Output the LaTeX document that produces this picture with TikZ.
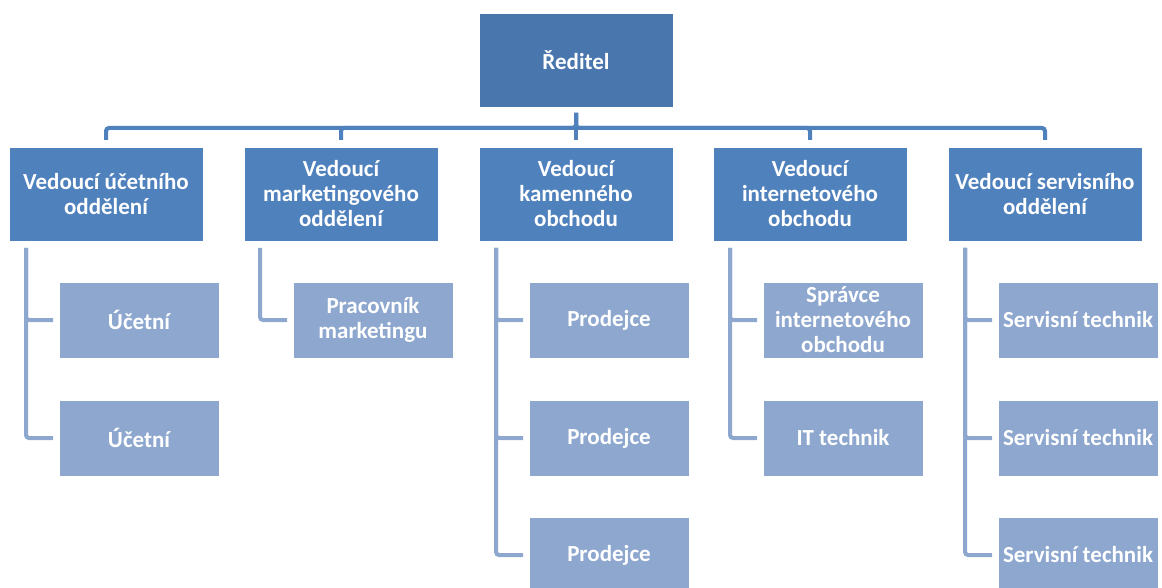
\documentclass[tikz,border=0pt]{standalone}
\usepackage{fontspec}
\setmainfont{Carlito}
\usepackage{tikz}
\usetikzlibrary{positioning}
\definecolor{topblue}{HTML}{4A76AE}
\definecolor{headblue}{HTML}{4F81BD}
\definecolor{staffblue}{HTML}{8DA7CF}

\begin{document}
\begin{tikzpicture}[
        director/.style={draw=white, line width=0.8pt, rectangle, outer sep=0pt, minimum width=194pt, minimum height=94pt, align=center, fill=topblue, text=white, font=\fontsize{23}{25}\selectfont\bfseries},
        head/.style={director, fill=headblue},
        staff/.style={director, fill=staffblue, minimum width=160pt, minimum height=76pt, inner xsep=1pt},
        bus/.style={draw=headblue, line width=4pt, rounded corners=3pt, shorten <=6pt, shorten >=7pt},
        branch/.style={draw=staffblue, line width=4pt, rounded corners=3pt, shorten <=7pt, shorten >=6pt}
    ]
        \clip (0,0) rectangle (1162pt,-588pt);

        % Blocks
        \node[director] (dir) at (576pt,-60pt) {Ředitel};
        \node[head, below=40pt of dir] (h3) {Vedoucí\\kamenného\\obchodu};
        \node[head, left=41pt of h3] (h2) {Vedoucí\\marketingového\\oddělení};
        \node[head, left=41pt of h2] (h1) {Vedoucí účetního\\oddělení};
        \node[head, right=40pt of h3] (h4) {Vedoucí\\internetového\\obchodu};
        \node[head, right=41pt of h4] (h5) {Vedoucí servisního\\oddělení};

        \node[staff, below=41pt of h1.south west, anchor=north west, xshift=50pt] (acc1) {Účetní};
        \node[staff, below=42pt of acc1] (acc2) {Účetní};

        \node[staff, below=41pt of h2.south west, anchor=north west, xshift=49pt] (mkt1) {Pracovník\\marketingu};

        \node[staff, below=41pt of h3.south west, anchor=north west, xshift=50pt] (sale1) {Prodejce};
        \node[staff, below=42pt of sale1] (sale2) {Prodejce};
        \node[staff, below=41pt of sale2] (sale3) {Prodejce};

        \node[staff, below=41pt of h4.south west, anchor=north west, xshift=50pt] (web1) {Správce\\internetového\\obchodu};
        \node[staff, below=42pt of web1] (web2) {IT technik};

        \node[staff, below=41pt of h5.south west, anchor=north west, xshift=50pt] (srv1) {Servisní technik};
        \node[staff, below=42pt of srv1] (srv2) {Servisní technik};
        \node[staff, below=41pt of srv2] (srv3) {Servisní technik};

        % Lines
        \draw[bus] (dir.south) -- ++(0,-21pt) -| (h1.north);
        \draw[bus] (dir.south) -- ++(0,-21pt) -| (h2.north);
        \draw[bus] (dir.south) -- (h3.north);
        \draw[bus] (dir.south) -- ++(0,-21pt) -| (h4.north);
        \draw[bus] (dir.south) -- ++(0,-21pt) -| (h5.north);

        \draw[branch] ([xshift=17pt]h1.south west) |- (acc1.west);
        \draw[branch] ([xshift=17pt]h1.south west) |- (acc2.west);
        \draw[branch] ([xshift=16pt]h2.south west) |- (mkt1.west);
        \draw[branch] ([xshift=17pt]h3.south west) |- (sale1.west);
        \draw[branch] ([xshift=17pt]h3.south west) |- (sale2.west);
        \draw[branch] ([xshift=17pt]h3.south west) |- (sale3.west);
        \draw[branch] ([xshift=17pt]h4.south west) |- (web1.west);
        \draw[branch] ([xshift=17pt]h4.south west) |- (web2.west);
        \draw[branch] ([xshift=17pt]h5.south west) |- (srv1.west);
        \draw[branch] ([xshift=17pt]h5.south west) |- (srv2.west);
        \draw[branch] ([xshift=17pt]h5.south west) |- (srv3.west);
    \end{tikzpicture}
\end{document}
